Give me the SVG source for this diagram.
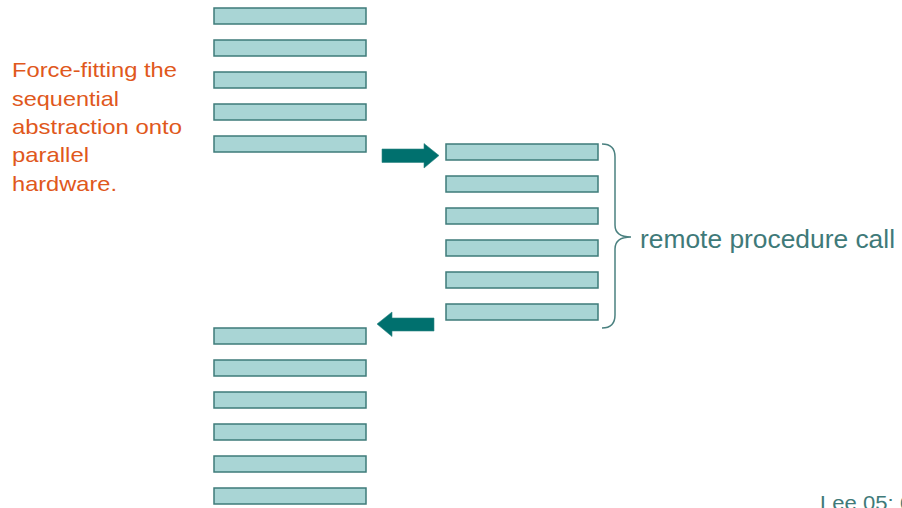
<svg xmlns="http://www.w3.org/2000/svg" width="902" height="508" viewBox="0 0 902 508">
  <style>
    .bar { fill: #a9d5d5; stroke: #3e7b79; stroke-width: 1.5; }
    .arrow { fill: #00706e; stroke: #2f8784; stroke-width: 0.6; }
    .brace { fill: none; stroke: #4b8180; stroke-width: 1.5; }
    .note { font-family: "Liberation Sans", Arial, sans-serif; font-size: 21px; fill: #e0581c; }
    .label { font-family: "Liberation Sans", Arial, sans-serif; font-size: 25px; fill: #3f7a79; }
    .footer { font-family: "Liberation Sans", Arial, sans-serif; font-size: 20px; fill: #3f7a79; }
  </style>
  <defs>
    <rect id="bar" class="bar" width="152" height="16"/>
  </defs>

  <rect width="902" height="508" fill="#ffffff"/>

  <!-- caller: first part of the sequential program -->
  <g id="caller-top">
    <use href="#bar" x="214" y="8"/>
    <use href="#bar" x="214" y="40"/>
    <use href="#bar" x="214" y="72"/>
    <use href="#bar" x="214" y="104"/>
    <use href="#bar" x="214" y="136"/>
  </g>

  <!-- remote side: the called procedure -->
  <g id="remote-procedure">
    <use href="#bar" x="446" y="144"/>
    <use href="#bar" x="446" y="176"/>
    <use href="#bar" x="446" y="208"/>
    <use href="#bar" x="446" y="240"/>
    <use href="#bar" x="446" y="272"/>
    <use href="#bar" x="446" y="304"/>
  </g>

  <!-- caller: continuation after the call returns -->
  <g id="caller-bottom">
    <use href="#bar" x="214" y="328"/>
    <use href="#bar" x="214" y="360"/>
    <use href="#bar" x="214" y="392"/>
    <use href="#bar" x="214" y="424"/>
    <use href="#bar" x="214" y="456"/>
    <use href="#bar" x="214" y="488"/>
  </g>

  <!-- call / return arrows and the brace -->
  <g id="connectors">
    <path class="arrow" d="M382,149 L424,149 L424,143.5 L439,155.5 L424,168 L424,162.5 L382,162.5 Z"/>
    <path class="arrow" d="M434,318 L392,318 L392,312 L377,324 L392,336.5 L392,331 L434,331 Z"/>
    <path class="brace" d="M602,144 Q615,144 615,157 L615,225 Q615,237 631,237 Q615,237 615,249 L615,315 Q615,328 602,328"/>
  </g>

  <g id="note">
    <text class="note" x="12" y="77" textLength="165" lengthAdjust="spacingAndGlyphs">Force-fitting the</text>
    <text class="note" x="12" y="106" textLength="107" lengthAdjust="spacingAndGlyphs">sequential</text>
    <text class="note" x="12" y="134" textLength="170" lengthAdjust="spacingAndGlyphs">abstraction onto</text>
    <text class="note" x="12" y="162" textLength="77" lengthAdjust="spacingAndGlyphs">parallel</text>
    <text class="note" x="12" y="191" textLength="105" lengthAdjust="spacingAndGlyphs">hardware.</text>
  </g>

  <g id="rpc-label">
    <text class="label" x="640" y="248" textLength="255" lengthAdjust="spacingAndGlyphs">remote procedure call</text>
  </g>

  <g id="footer">
    <text class="footer" x="820" y="510" textLength="92" lengthAdjust="spacingAndGlyphs">Lee 05: 6</text>
  </g>
</svg>
